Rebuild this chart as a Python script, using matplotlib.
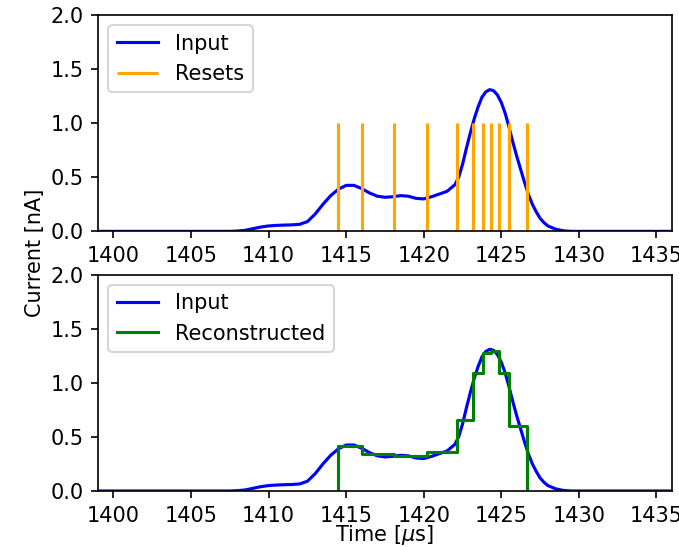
import matplotlib
matplotlib.use("Agg")
import matplotlib.pyplot as plt

# input current pulse (time in us, current in nA)
t_input = [1399, 1407.5, 1408, 1408.5, 1409, 1409.5, 1410, 1410.5, 1411, 1411.5,
           1412, 1412.5, 1413, 1413.5, 1414, 1414.5, 1415, 1415.5, 1416, 1416.5,
           1417, 1417.5, 1418, 1418.5, 1419, 1419.5, 1420, 1420.5, 1421, 1421.5,
           1422, 1422.25, 1422.5, 1422.75, 1423, 1423.25, 1423.5, 1423.75, 1424,
           1424.25, 1424.5, 1424.75, 1425, 1425.25, 1425.5, 1425.75, 1426, 1426.25,
           1426.5, 1426.75, 1427, 1427.25, 1427.5, 1427.75, 1428, 1428.5, 1429,
           1429.5, 1436]
i_input = [0, 0, 0.003, 0.01, 0.025, 0.04, 0.05, 0.055, 0.058, 0.06,
           0.065, 0.09, 0.16, 0.25, 0.33, 0.39, 0.425, 0.425, 0.395, 0.355,
           0.325, 0.315, 0.32, 0.33, 0.325, 0.305, 0.30, 0.32, 0.345, 0.37,
           0.43, 0.50, 0.62, 0.77, 0.91, 1.04, 1.15, 1.24, 1.29,
           1.31, 1.30, 1.26, 1.19, 1.09, 0.96, 0.82, 0.69, 0.57,
           0.45, 0.34, 0.25, 0.18, 0.12, 0.08, 0.05, 0.02, 0.005,
           0, 0]

# reset times of the integrator
t_resets = [1414.44, 1416.04, 1418.06, 1420.19, 1422.13, 1423.2, 1423.83,
            1424.35, 1424.84, 1425.5, 1426.67]
reset_height = 1.0

# reconstructed current level held after each reset
i_recon = [0.42, 0.34, 0.325, 0.358, 0.66, 1.09, 1.28, 1.29, 1.09, 0.605, 0]

fig, (ax1, ax2) = plt.subplots(2, 1, figsize=(679 / 150, 547 / 150), dpi=150)
fig.subplots_adjust(left=0.1443, right=0.9897, top=0.9726, bottom=0.1024, hspace=0.2)

ax1.plot(t_input, i_input, color="blue", label="Input")
ax1.vlines(t_resets, 0, reset_height, color="orange", label="Resets")
ax1.legend(loc="upper left")

ax2.plot(t_input, i_input, color="blue", label="Input")
ax2.step([t_resets[0]] + t_resets, [0] + i_recon, where="post",
         color="green", label="Reconstructed")
ax2.legend(loc="upper left")
ax2.set_xlabel(r"Time [$\mu$s]", labelpad=-1)

for ax in (ax1, ax2):
    ax.set_xlim(1399, 1436)
    ax.set_ylim(0, 2.0)
    ax.set_xticks([1400, 1405, 1410, 1415, 1420, 1425, 1430, 1435])
    ax.set_yticks([0.0, 0.5, 1.0, 1.5, 2.0])

fig.text(35 / 679, 1 - 253 / 547, "Current [nA]", rotation=90,
         ha="center", va="center", fontsize=10)

fig.savefig("out.png")
